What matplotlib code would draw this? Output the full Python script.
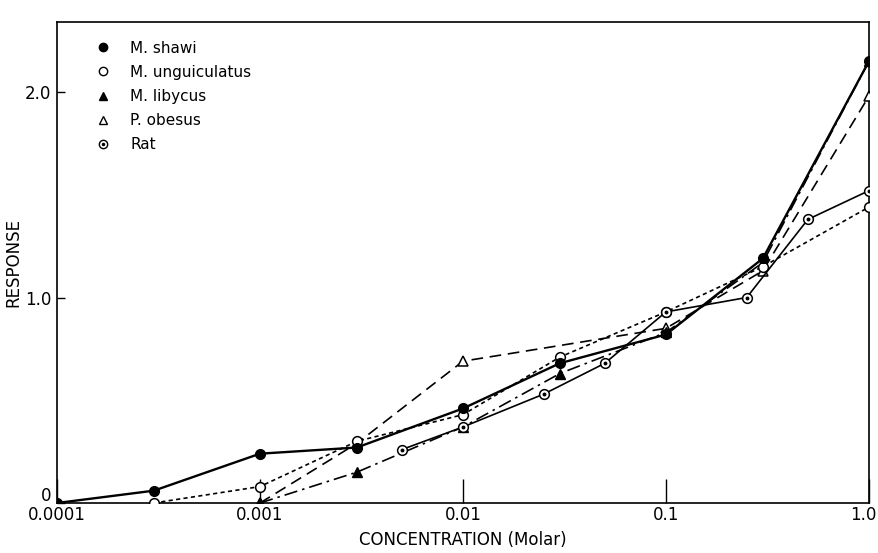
import numpy as np
import matplotlib
matplotlib.use("Agg")
import matplotlib.pyplot as plt
import matplotlib.transforms as mtransforms
from matplotlib.lines import Line2D

# concentrations (Molar) and responses
shawi_x = [0.0001, 0.0003, 0.001, 0.003, 0.01, 0.03, 0.1, 0.3, 1.0]
shawi_y = [0.0, 0.06, 0.24, 0.27, 0.46, 0.68, 0.82, 1.19, 2.15]

ungu_x = [0.0003, 0.001, 0.003, 0.01, 0.03, 0.1, 0.3, 1.0]
ungu_y = [0.0, 0.08, 0.30, 0.43, 0.71, 0.93, 1.15, 1.44]

liby_x = [0.001, 0.003, 0.01, 0.03, 0.1, 0.3, 1.0]
liby_y = [0.0, 0.15, 0.37, 0.63, 0.83, 1.17, 2.15]

obes_x = [0.001, 0.003, 0.01, 0.1, 0.3, 1.0]
obes_y = [0.0, 0.29, 0.69, 0.85, 1.13, 1.98]

rat_x = [0.005, 0.01, 0.025, 0.05, 0.1, 0.25, 0.5, 1.0]
rat_y = [0.26, 0.37, 0.53, 0.68, 0.93, 1.00, 1.38, 1.52]

x_ticks = [0.0001, 0.001, 0.01, 0.1, 1.0]
x_ticklabels = ["0.0001", "0.001", "0.01", "0.1", "1.0"]
y_ticks = [0, 1.0, 2.0]
y_ticklabels = ["0", "1.0", "2.0"]

plt.rcParams['font.family'] = ['DejaVu Sans']

fig = plt.figure(figsize=(8.79, 5.53), dpi=100)
ax = fig.add_axes([0.0648, 0.0904, 0.9238, 0.8696])

k = 'k'
ax.plot(obes_x, obes_y, color=k, lw=1.2, ls=(0, (7, 4)), marker='^', ms=7,
        mfc='white', mec=k, mew=1.1, zorder=3)
ax.plot(liby_x, liby_y, color=k, lw=1.2, ls=(0, (8, 3, 1.5, 3)), marker='^', ms=7,
        mfc=k, mec=k, zorder=3)
ax.plot(ungu_x, ungu_y, color=k, lw=1.2, ls=(0, (2.5, 2)), marker='o', ms=7,
        mfc='white', mec=k, mew=1.1, zorder=4)
ax.plot(rat_x, rat_y, color=k, lw=1.2, ls='-', marker='o', ms=7,
        mfc='white', mec=k, mew=1.1, zorder=4)
ax.plot(rat_x, rat_y, ls='none', marker='o', ms=1.8, color=k, zorder=5)
ax.plot(shawi_x, shawi_y, color=k, lw=1.7, ls='-', marker='o', ms=7,
        mfc=k, mec=k, zorder=5)

ax.set_xscale('log')
ax.set_xlim(0.0001, 1.0)
ax.set_ylim(0, 2.34)
ax.set_xticks(x_ticks)
ax.set_xticklabels(x_ticklabels)
ax.xaxis.set_minor_locator(matplotlib.ticker.NullLocator())
ax.set_yticks(y_ticks)
ax.set_yticklabels(y_ticklabels)
ax.tick_params(axis='x', direction='in', length=17, width=1, labelsize=12, pad=2)
ax.tick_params(axis='y', direction='in', length=6, width=1, labelsize=12, pad=4)
for s in ax.spines.values():
    s.set_linewidth(1.2)

# nudge the end labels so they stay inside and don't collide
xl = ax.get_xticklabels()
xl[-1].set_transform(xl[-1].get_transform() +
                     mtransforms.ScaledTranslation(-6 / 100, 0, fig.dpi_scale_trans))
yl = ax.get_yticklabels()
yl[0].set_transform(yl[0].get_transform() +
                    mtransforms.ScaledTranslation(0, 9 / 100, fig.dpi_scale_trans))

ax.set_xlabel("CONCENTRATION (Molar)", fontsize=12, labelpad=5)
ax.set_ylabel("RESPONSE", fontsize=12, labelpad=2)

# legend: markers only
h_shawi = Line2D([], [], ls='none', marker='o', ms=6, mfc=k, mec=k)
h_ungu = Line2D([], [], ls='none', marker='o', ms=6, mfc='white', mec=k)
h_liby = Line2D([], [], ls='none', marker='^', ms=6, mfc=k, mec=k)
h_obes = Line2D([], [], ls='none', marker='^', ms=6, mfc='white', mec=k)
h_rat = (Line2D([], [], ls='none', marker='o', ms=6, mfc='white', mec=k),
         Line2D([], [], ls='none', marker='o', ms=1.5, color=k))
ax.legend([h_shawi, h_ungu, h_liby, h_obes, h_rat],
          ["M. shawi", "M. unguiculatus", "M. libycus", "P. obesus", "Rat"],
          loc='upper left', bbox_to_anchor=(0.03, 0.99), frameon=False,
          fontsize=11, handlelength=1.0, handletextpad=1.3, labelspacing=0.6)

fig.savefig("out.png", dpi=100)
